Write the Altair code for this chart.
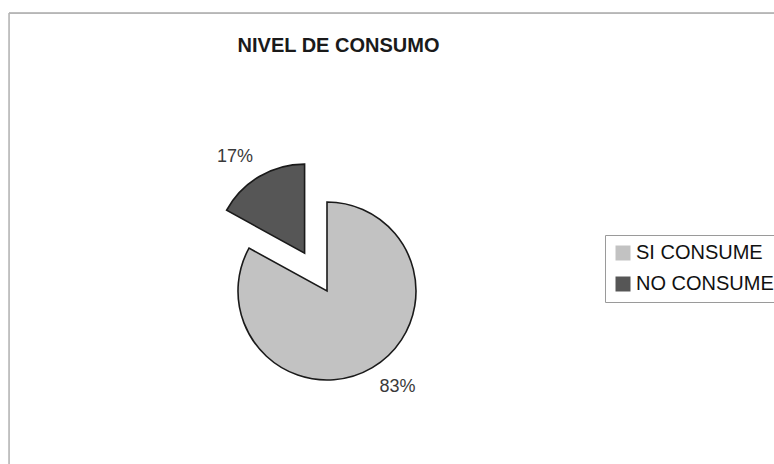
import altair as alt
import pandas as pd
import math

# ---- data ----
categories = ["SI CONSUME", "NO CONSUME"]
values = [83, 17]
labels = ["83%", "17%"]
colors = ["#c2c2c2", "#565656"]

df = pd.DataFrame({"category": categories, "value": values, "label": labels})
df["end"] = df["value"].cumsum()
df["start"] = df["end"] - df["value"]
df["mid"] = (df["start"] + df["end"]) / 2

# ---- layout (pixels in plot area) ----
W, H = 765, 451
CX, CY = 318, 278          # pie centre
R = 89                     # pie radius
EXPLODE = 44               # explode distance for the small slice

theta_scale = alt.Scale(domain=[0, 100], range=[0, 2 * math.pi])
color_scale = alt.Scale(domain=categories, range=colors)

# explode offset for NO CONSUME slice (centre direction of that slice)
mid_no = float(df.loc[df.category == "NO CONSUME", "mid"].iloc[0]) / 100 * 2 * math.pi
EX = CX + EXPLODE * math.sin(mid_no)
EY = CY - EXPLODE * math.cos(mid_no)

legend = alt.Legend(
    title=None,
    orient="none",
    legendX=596,
    legendY=222,
    symbolType="square",
    symbolSize=225,
    symbolStrokeWidth=0,
    labelFontSize=20,
    labelFont="Liberation Sans",
    labelColor="#111111",
    labelOffset=3,
    rowPadding=11,
    strokeColor="#9a9a9a",
    padding=8,
    fillColor="white",
)

base = alt.Chart(df)

def arc_layer(cat, x, y):
    return base.transform_filter(alt.datum.category == cat).mark_arc(
        stroke="#1a1a1a", strokeWidth=1.6, radius=R
    ).encode(
        theta=alt.Theta("start:Q", scale=theta_scale),
        theta2="end:Q",
        color=alt.Color("category:N", scale=color_scale, sort=categories, legend=legend),
        x=alt.value(x),
        y=alt.value(y),
    )

def label_layer(cat, x, y, dx, dy):
    return base.transform_filter(alt.datum.category == cat).mark_text(
        radius=119, fontSize=18, font="Liberation Sans", color="#3a3a3a",
        align="center", baseline="middle", dx=dx, dy=dy
    ).encode(
        theta=alt.Theta("mid:Q", scale=theta_scale),
        text="label:N",
        x=alt.value(x),
        y=alt.value(y),
    )

frame_data = alt.Data(values=[{"k": 1}])
top_rule = alt.Chart(frame_data).mark_rule(color="#a8a8a8", strokeWidth=1.5).encode(
    x=alt.value(0), x2=alt.value(W), y=alt.value(0)
)
left_rule = alt.Chart(frame_data).mark_rule(color="#b5b5b5", strokeWidth=1.5).encode(
    x=alt.value(0), y=alt.value(0), y2=alt.value(H)
)

chart = alt.layer(
    top_rule,
    left_rule,
    arc_layer("SI CONSUME", CX, CY),
    arc_layer("NO CONSUME", EX, EY),
    label_layer("SI CONSUME", CX, CY, 10, -6),
    label_layer("NO CONSUME", EX, EY, -9, 6),
).properties(
    width=W,
    height=H,
    autosize=alt.AutoSizeParams(type="none"),
    padding={"left": 9, "top": 13, "right": 0, "bottom": 0},
    title=alt.TitleParams(
        "NIVEL DE CONSUMO",
        anchor="middle",
        frame="group",
        dx=-53,
        dy=60,
        offset=0,
        baseline="alphabetic",
        fontSize=20,
        font="Liberation Sans",
        fontWeight="bold",
        color="#1a1a1a",
    ),
).configure_view(stroke=None).configure(background="white")

chart.save("out.html", embed_options={"renderer": "svg", "actions": False})
